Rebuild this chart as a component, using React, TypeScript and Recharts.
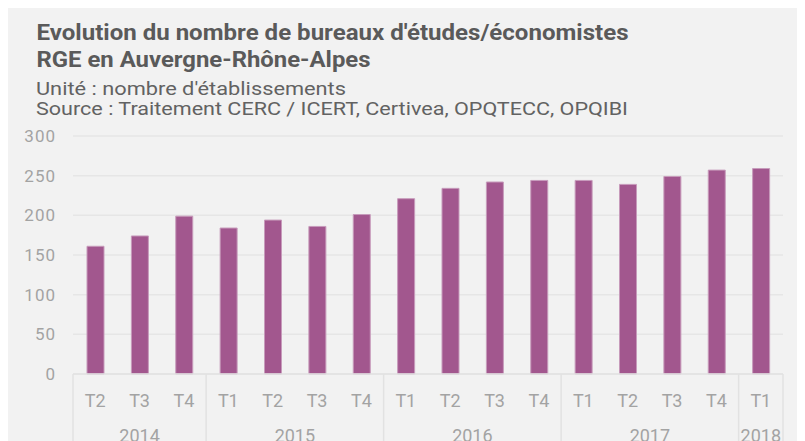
import React from 'react';
import { BarChart, Bar, XAxis, YAxis, CartesianGrid } from 'recharts';

const quarters = ['T2', 'T3', 'T4', 'T1', 'T2', 'T3', 'T4', 'T1', 'T2', 'T3', 'T4', 'T1', 'T2', 'T3', 'T4', 'T1'];
const years = ['2014', '2014', '2014', '2015', '2015', '2015', '2015', '2016', '2016', '2016', '2016', '2017', '2017', '2017', '2017', '2018'];
const bureaux = [161, 174, 199, 184, 194, 186, 201, 221, 234, 242, 244, 244, 239, 249, 257, 259];
const yTicks = [0, 50, 100, 150, 200, 250, 300];

const data = quarters.map((q, i) => ({ key: `${years[i]}-${q}`, quarter: q, year: years[i], value: bureaux[i] }));

const W = 797;
const H = 433;
const BAR = '#a2578e';
const TXT = '#a3a3a3';
const SEP = '#e2e2e2';

// two-level tick: quarter label, plus year label and group separators
const QuarterTick = (props: any) => {
  const { x, y, payload, index, width, visibleTicksCount } = props;
  const count = visibleTicksCount || data.length;
  const bw = payload?.offset ? payload.offset * 2 : width / count;
  const i = index;
  const yr = years[i];
  const first = i === 0 || years[i - 1] !== yr;
  const last = i === data.length - 1;
  let span = 0;
  if (first) {
    while (i + span < years.length && years[i + span] === yr) span++;
  }
  const left = x - bw / 2;
  return (
    <g>
      <text x={x} y={y + 26} textAnchor="middle" dominantBaseline="central" fill={TXT} fontSize={18} fontFamily="Roboto, sans-serif">
        {quarters[i]}
      </text>
      {first && <line x1={left} x2={left} y1={y} y2={y + 80} stroke={SEP} strokeWidth={1.5} />}
      {last && <line x1={x + bw / 2} x2={x + bw / 2} y1={y} y2={y + 80} stroke={SEP} strokeWidth={1.5} />}
      {first && (
        <text x={left + (span * bw) / 2} y={y + 61} textAnchor="middle" dominantBaseline="central" fill={TXT} fontSize={18} fontFamily="Roboto, sans-serif">
          {yr}
        </text>
      )}
    </g>
  );
};

export default function App() {
  return (
    <div style={{ position: 'relative', width: W, height: H, background: '#f2f2f2', overflow: 'hidden' }}>
      <svg width={W} height={130} style={{ position: 'absolute', left: 0, top: 0 }}>
        <g fontFamily="Roboto, sans-serif" fill="#5a5a5a">
          <text x={28.5} y={32} fontSize={22} fontWeight="bold" textLength={592} lengthAdjust="spacingAndGlyphs">
            Evolution du nombre de bureaux d'études/économistes
          </text>
          <text x={28.5} y={59} fontSize={22} fontWeight="bold" textLength={334} lengthAdjust="spacingAndGlyphs">
            RGE en Auvergne-Rhône-Alpes
          </text>
          <text x={28} y={87} fontSize={18} fill="#626262" textLength={310} lengthAdjust="spacingAndGlyphs">
            Unité : nombre d'établissements
          </text>
          <text x={28} y={107} fontSize={18} fill="#626262" textLength={592} lengthAdjust="spacingAndGlyphs">
            Source : Traitement CERC / ICERT, Certivea, OPQTECC, OPQIBI
          </text>
        </g>
      </svg>
      <BarChart width={W} height={H} data={data} margin={{ top: 128, right: 22, bottom: 0, left: 0 }} barSize={17}>
        <CartesianGrid vertical={false} stroke="#e6e6e6" strokeWidth={1.5} />
        <XAxis
          dataKey="key"
          height={67}
          interval={0}
          axisLine={{ stroke: SEP, strokeWidth: 1.5 }}
          tickLine={false}
          tickSize={0}
          tickMargin={0}
          tick={<QuarterTick />}
        />
        <YAxis
          width={65}
          domain={[0, 300]}
          ticks={yTicks}
          axisLine={false}
          tickLine={false}
          tickSize={10}
          tickMargin={7}
          tick={{ fill: TXT, fontSize: 17, fontFamily: 'Roboto, sans-serif', letterSpacing: 1 }}
        />
        <Bar dataKey="value" fill={BAR} stroke="#c79bbb" strokeWidth={1} isAnimationActive={false} />
      </BarChart>
    </div>
  );
}
